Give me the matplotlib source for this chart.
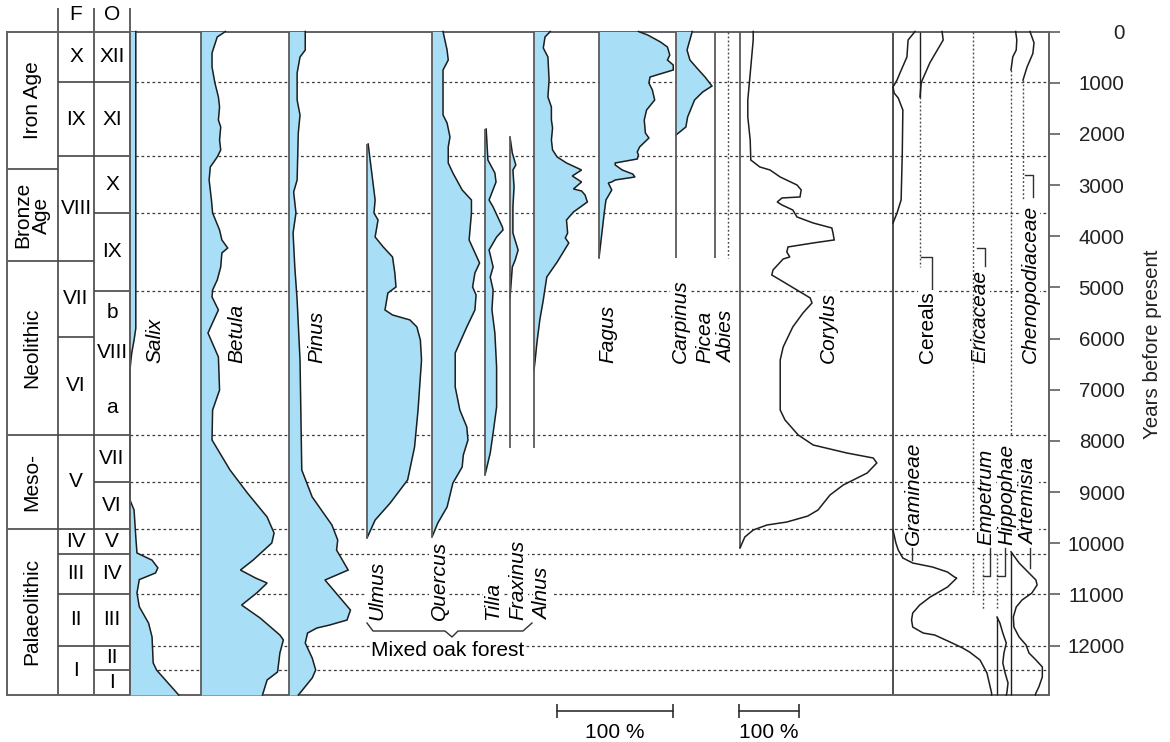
import matplotlib
matplotlib.use("Agg")
import matplotlib.pyplot as plt

plt.rcParams['font.family'] = ['Liberation Sans', 'DejaVu Sans']

# ---------------------------------------------------------------- data
AGE_END = 12965
year_ticks = list(range(0, 13000, 1000))

zone_bounds_O = [987, 2433, 3546, 5070, 7884, 8802, 9720, 10209, 10991, 12007, 12476]
zone_bounds_F = [987, 2433, 4484, 5970, 7884, 9720, 10209, 10991, 12007]
zone_bounds_period = [2687, 4484, 7884, 9720]

periods = ["Iron Age", "Bronze\nAge", "Neolithic", "Meso-", "Palaeolithic"]
f_zones = ["X", "IX", "VIII", "VII", "VI", "V", "IV", "III", "II", "I"]
o_zones = ["XII", "XI", "X", "IX", "", "VII", "VI", "V", "IV", "III", "II", "I"]
o_sub_labels = ["b", "VIII", "a"]
o_sub_years = [5500, 6280, 7355]

salix_yr = [0, 5800, 6030, 6280, 6420, 6610, 9155, 9350, 9880, 10190, 10330, 10480,
            10580, 10710, 10970, 11240, 11560, 11830, 12340, 12480, 12965]
salix_pct = [5, 5, 3.5, 1.5, 0.8, 0, 0, 3.5, 5, 6, 19, 24, 22, 8, 6, 8, 16, 19, 20, 23, 42]

betula_yr = [0, 107, 420, 694, 1006, 1280, 1475, 1729, 1866, 2120, 2315, 2452, 2647, 2901,
             3292, 3546, 3878, 4073, 4230, 4327, 4601, 4855, 5050, 5187, 5441, 5890, 6360,
             7005, 7396, 7982, 8568, 9018, 9487, 9800, 9995, 10327, 10523, 10679, 10777,
             10972, 11207, 11461, 11793, 11890, 12144, 12515, 12671, 12965]
betula_pct = [21, 14, 9.5, 9.5, 12, 15, 16, 15, 17, 16, 17, 14, 8, 7, 9, 10, 16, 18, 23, 18,
              17, 14, 10, 9.5, 15, 6, 15, 16, 10, 9.5, 25, 40, 57, 63, 61, 45, 34, 47, 57, 48,
              35, 51, 68, 71, 68, 66, 57, 53]

pinus_yr = [0, 362, 498, 811, 1338, 1631, 1983, 2901, 3135, 3546, 3937, 4601, 5246, 6419,
            8568, 9096, 9643, 9936, 10132, 10523, 10718, 11305, 11500, 11598, 11656, 11754,
            11949, 12242, 12476, 12632, 12926, 12965]
pinus_pct = [14, 14, 9.5, 7, 7, 9.5, 8, 7, 4, 6, 3.5, 5, 7, 9.5, 11, 20, 37, 42, 41, 51, 31,
             53, 50, 35, 24, 16, 14, 20, 23, 20, 9.5, 8]

ulmus_yr = [2198, 3292, 3546, 3683, 4015, 4210, 4406, 4718, 4992, 5109, 5441, 5539, 5636,
            5773, 6027, 6419, 7396, 8119, 8764, 9213, 9546, 9897]
ulmus_pct = [1, 7, 6, 9.5, 7, 14, 22, 24, 25, 18, 15.5, 22, 37, 43, 46, 47, 44, 41, 35, 20, 7, 0]

quercus_yr = [0, 362, 557, 752, 948, 1631, 1788, 2061, 2256, 2569, 2764, 3096, 3292, 3546,
              4073, 4523, 4718, 4992, 5148, 5441, 5773, 6027, 6282, 6946, 7396, 7728, 7982,
              8275, 8510, 8823, 9292, 9604, 9878]
quercus_pct = [9.5, 13, 14, 9.5, 9.5, 9.5, 13, 15.5, 14, 14, 18, 26, 34, 34, 32, 41, 37, 35,
               38, 37, 30, 25, 20, 20, 24, 30, 31, 27, 26, 18, 13, 5, 0]

tilia_yr = [1905, 2511, 2764, 2940, 3292, 3429, 3820, 3878, 4015, 4269, 4601, 4797, 5050,
            5441, 5890, 6555, 7337, 7845, 8236, 8666]
tilia_pct = [1, 2.5, 8.5, 9.5, 3.5, 7, 15, 15.5, 10, 3.5, 7, 4.5, 7, 6, 8.5, 10, 10, 7, 4.5, 0]

fraxinus_yr = [2061, 2374, 2608, 2706, 3038, 3429, 3937, 4269, 4464, 4601, 5206]
fraxinus_pct = [0, 2, 5, 2.5, 3.5, 2.5, 2.5, 7, 4.5, 2, 0]

alnus_yr = [0, 107, 322, 498, 948, 1280, 1475, 1729, 1886, 2120, 2315, 2452, 2569, 2706,
            2823, 2940, 3077, 3116, 3194, 3331, 3527, 3683, 3937, 4034, 4132, 4503, 4797,
            5246, 5636, 6086, 6419, 6614]
alnus_pct = [14, 9.5, 8, 12, 13, 12, 15, 15, 16, 15, 16, 20, 28, 41, 33, 41, 34, 41, 44, 46,
             34, 28, 29, 27, 30, 20, 11, 8, 5, 2.5, 1, 0]

fagus_yr = [0, 68, 205, 303, 459, 557, 655, 752, 889, 1006, 1143, 1338, 1534, 1729, 1983,
            2081, 2256, 2354, 2413, 2491, 2569, 2608, 2706, 2784, 2843, 2901, 2940, 2960,
            3096, 3292, 3546, 4425]
fagus_pct = [34, 42, 53, 59, 61, 59, 64, 64, 44, 43, 46, 48, 41, 39, 40, 43, 35, 33, 34, 33,
             14, 14, 20, 29, 31, 14, 11, 8, 11, 6, 4.5, 0]

carpinus_yr = [0, 362, 557, 713, 889, 1065, 1182, 1338, 1671, 1866, 2022]
carpinus_pct = [14, 9.5, 12, 18, 25, 31, 23, 16, 10, 8.5, 0]

corylus_yr = [0, 166, 694, 1338, 1671, 2120, 2511, 2647, 2706, 2843, 2999, 3096, 3233, 3253,
              3331, 3390, 3488, 3624, 3742, 3839, 3937, 4073, 4132, 4210, 4308, 4406, 4445,
              4660, 4758, 4855, 5207, 5305, 5500, 5773, 6164, 6419, 6673, 7396, 7591, 7884,
              8080, 8236, 8334, 8431, 8627, 8862, 9057, 9350, 9468, 9585, 9643, 9741, 9878,
              10093]
corylus_pct = [22, 22, 18, 13, 13, 17, 18, 33, 50, 67, 95, 102, 100, 70, 62, 70, 88, 95, 122,
               153, 155, 157, 122, 80, 78, 83, 72, 55, 53, 67, 117, 120, 105, 88, 72, 67, 67,
               67, 75, 97, 122, 178, 222, 228, 212, 172, 150, 130, 113, 78, 45, 22, 8, 0]

gram_top_yr = [0, 166, 498, 811, 948, 1084, 1202, 1300, 1534, 2374, 3292, 3546, 3742]
gram_top_pct = [19, 13, 12, 6, 3.5, 0, 1, 4.5, 8.5, 8, 7, 3.5, 0]
gram_low_yr = [9741, 9995, 10132, 10288, 10386, 10464, 10562, 10660, 10679, 10855, 11051,
               11207, 11363, 11500, 11637, 11754, 11793, 11949, 12046, 12125, 12281, 12535,
               12926, 12965]
gram_low_pct = [0, 2.5, 4.5, 8.5, 17, 34, 47, 53, 55, 47, 32, 23, 17, 16, 17, 26, 36, 51, 60,
                66, 75, 81, 85, 85]

cereals_yr = [0, 166, 611, 948, 1006, 1280]
cereals_pct = [19, 20, 8.5, 2, 1, 0]
cereals_trace = (1280, 4601)

ericaceae_traces = [(0, 9720), (10209, 10950)]
empetrum_trace = (10209, 11300)
hippophae_trace = (10209, 11270)
hippophae_yr = [11442, 11559, 11754, 11949, 12144, 12339, 12535, 12730, 12926, 12965]
hippophae_pct = [0, 2.5, 5, 8, 6, 5, 7, 9.5, 8.5, 8]

artemisia_top_yr = [0, 166, 362, 498, 752]
artemisia_top_pct = [4, 5, 4.5, 1.5, 0]
artemisia_trace = (752, 7884)
artemisia_low_yr = [10167, 10386, 10581, 10718, 10816, 10972, 11109, 11246, 11442, 11637,
                    11832, 11988, 12144, 12281, 12417, 12613, 12808, 12926, 12965]
artemisia_low_pct = [0, 7, 15.5, 21.5, 22.5, 18, 9.5, 4.5, 2, 2.5, 7, 13, 15.5, 21.5, 27, 27,
                     24, 21.5, 21]

cheno_yr = [0, 220, 430, 694, 948]
cheno_pct = [6, 9.5, 8.5, 3.5, 0]
cheno_trace = (948, 3292)

# ---------------------------------------------------------------- layout
W, H, DPI = 1170, 742, 100
TOP_PX, BOT_PX = 31.5, 695.0
LEFT_PX, RIGHT_PX = 7.0, 1049.0
TREE_K = 1.16      # px per percent (trees, herbs)
CORY_K = 0.60      # px per percent (Corylus)
BLUE = '#a8dff6'
EDGE = '#1e1e1e'
BASE = '#5a5a5a'
GRID = '#3a3a3a'
FS = 15
DASH = (0, (2.2, 2.2))
DOT = (0, (1.3, 1.6))


def yr(px):
    return (px - TOP_PX) / (BOT_PX - TOP_PX) * AGE_END


def rect(x0, x1, y0=TOP_PX, y1=BOT_PX):
    return [x0 / W, 1 - y1 / H, (x1 - x0) / W, (y1 - y0) / H]


fig = plt.figure(figsize=(W / DPI, H / DPI), dpi=DPI)
ax = fig.add_axes(rect(LEFT_PX, RIGHT_PX))
ax.set_xlim(LEFT_PX, RIGHT_PX)
ax.set_ylim(AGE_END, 0)
for s in ax.spines.values():
    s.set_color('#606060')
    s.set_linewidth(1.4)
ax.set_xticks([])
ax.yaxis.tick_right()
ax.set_yticks(year_ticks)
ax.set_yticklabels([str(t) for t in year_ticks])
ax.tick_params(axis='y', direction='out', length=7.9, width=1.2, color='#606060',
               labelsize=14.8, pad=46.5, labelcolor='#222222', left=False, labelleft=False)
for lab in ax.get_yticklabels():
    lab.set_horizontalalignment('right')

# zone dashed lines
ax.hlines(zone_bounds_O, 130, RIGHT_PX, colors=GRID, lw=0.9, linestyles=[DASH], zorder=0.5)

# table
TL = '#454545'
ax.vlines([58, 94, 130], yr(8), AGE_END, colors=TL, lw=1.2, clip_on=False)
ax.hlines(zone_bounds_period, 7, 58, colors=TL, lw=1.2)
ax.hlines(zone_bounds_F, 58, 94, colors=TL, lw=1.2)
ax.hlines(zone_bounds_O, 94, 130, colors=TL, lw=1.2)

ax.text(76, yr(14), "F", ha='center', va='center', fontsize=FS, clip_on=False)
ax.text(112, yr(14), "O", ha='center', va='center', fontsize=FS, clip_on=False)


def centers(bounds):
    b = [0] + list(bounds) + [AGE_END]
    return [(b[i] + b[i + 1]) / 2 for i in range(len(b) - 1)]


for lab, c in zip(periods, centers(zone_bounds_period)):
    ax.text(32, c, lab, rotation=90, ha='center', va='center', fontsize=FS,
            multialignment='center', linespacing=0.95)
for lab, c in zip(f_zones, centers(zone_bounds_F)):
    ax.text(76, c, lab, ha='center', va='center', fontsize=FS)
for lab, c in zip(o_zones, centers(zone_bounds_O)):
    if lab:
        ax.text(112, c, lab, ha='center', va='center', fontsize=FS)
for lab, c in zip(o_sub_labels, o_sub_years):
    ax.text(112, c, lab, ha='center', va='center', fontsize=FS)


# ---------------------------------------------------------------- panels
def panel(base_px, k, width_px=160):
    a = fig.add_axes(rect(base_px, base_px + width_px))
    a.set_xlim(0, width_px / k)
    a.set_ylim(AGE_END, 0)
    a.axis('off')
    a.patch.set_visible(False)
    return a


def curve(a, y, x, fill=True):
    if fill:
        a.fill_betweenx(y, 0, x, color=BLUE, lw=0, clip_on=False)
    a.plot(x, y, color=EDGE, lw=1.1, clip_on=False, solid_joinstyle='miter')


def base(a, y0, y1, ls='-', color=BASE, lw=1.3):
    a.vlines(0, y0, y1, colors=color, lw=lw, linestyles=[ls], clip_on=False)


tree_panels = [
    (130, salix_yr, salix_pct, (0, AGE_END)),
    (201, betula_yr, betula_pct, (0, AGE_END)),
    (289, pinus_yr, pinus_pct, (0, AGE_END)),
    (367, ulmus_yr, ulmus_pct, (ulmus_yr[0], ulmus_yr[-1])),
    (432, quercus_yr, quercus_pct, (0, quercus_yr[-1])),
    (485, tilia_yr, tilia_pct, (tilia_yr[0], tilia_yr[-1])),
    (510, fraxinus_yr, fraxinus_pct, (fraxinus_yr[0], 8140)),
    (534, alnus_yr, alnus_pct, (0, 8140)),
    (599, fagus_yr, fagus_pct, (0, fagus_yr[-1])),
    (676, carpinus_yr, carpinus_pct, (0, 4425)),
]
for bx, y, x, rng in tree_panels:
    a = panel(bx, TREE_K)
    curve(a, y, x)
    base(a, *rng)

a = panel(715, TREE_K)          # Picea
base(a, 0, 4425)
a = panel(728, TREE_K)          # Abies
base(a, 0, 4425, ls=DOT, color='#444444', lw=1.0)

a = panel(740, CORY_K, 200)     # Corylus
base(a, 0, corylus_yr[-1])
curve(a, corylus_yr, corylus_pct, fill=False)

# herbs
a = panel(893, TREE_K)
curve(a, gram_top_yr, gram_top_pct, fill=False)
curve(a, gram_low_yr, gram_low_pct, fill=False)

a = panel(920, TREE_K)
base(a, 0, cereals_trace[0], color=EDGE, lw=1.0)
base(a, *cereals_trace, ls=DOT, color='#444444', lw=1.0)
curve(a, cereals_yr, cereals_pct, fill=False)

a = panel(973, TREE_K)
for r in ericaceae_traces:
    base(a, *r, ls=DOT, color='#444444', lw=1.0)

a = panel(983, TREE_K)
base(a, *empetrum_trace, ls=DOT, color='#444444', lw=1.0)

a = panel(997, TREE_K)
base(a, *hippophae_trace, ls=DOT, color='#444444', lw=1.0)
base(a, hippophae_yr[0], AGE_END, color=EDGE, lw=1.0)
curve(a, hippophae_yr, hippophae_pct, fill=False)

a = panel(1011, TREE_K)
curve(a, artemisia_top_yr, artemisia_top_pct, fill=False)
base(a, *artemisia_trace, ls=DOT, color='#444444', lw=1.0)
base(a, artemisia_low_yr[0], AGE_END, color=EDGE, lw=1.0)
curve(a, artemisia_low_yr, artemisia_low_pct, fill=False)

a = panel(1023, TREE_K)
curve(a, cheno_yr, cheno_pct, fill=False)
base(a, *cheno_trace, ls=DOT, color='#444444', lw=1.0)

# frame line between Corylus and herbs
ax.vlines(893, 0, AGE_END, colors='#303030', lw=1.2)

# ---------------------------------------------------------------- labels
BOX = dict(facecolor='white', edgecolor='none', pad=0.6)


def label(x, ybot, s, italic=True):
    ax.text(x, yr(ybot), s, rotation=90, ha='center', va='bottom', fontsize=FS,
            style='italic' if italic else 'normal', bbox=BOX, zorder=5)


for x, s in [(155, "Salix"), (237, "Betula"), (317, "Pinus"), (608, "Fagus"),
             (680, "Carpinus"), (705, "Picea"), (727, "Abies"), (828, "Corylus"),
             (980, "Ericaceae"), (1030, "Chenopodiaceae")]:
    label(x, 363, s)
label(928, 363, "Cereals", italic=False)
for x, s in [(377, "Ulmus"), (439, "Quercus"), (493, "Tilia"), (518, "Fraxinus"),
             (543, "Alnus")]:
    label(x, 620, s)
for x, s in [(913, "Gramineae"), (986, "Empetrum"), (1007, "Hippophae"),
             (1029, "Artemisia")]:
    label(x, 545, s)

LC = '#303030'
# leaders
ax.plot([912, 912], [yr(548), yr(560)], color=LC, lw=1.0)
ax.plot([990, 990, 983], [yr(548), yr(576), yr(576)], color=LC, lw=1.0)
ax.plot([1005, 1005, 997], [yr(548), yr(576), yr(576)], color=LC, lw=1.0)
ax.plot([1030, 1030], [yr(548), yr(568)], color=LC, lw=1.0)
ax.plot([921, 932, 932], [yr(257), yr(257), yr(289)], color=LC, lw=1.0)
ax.plot([977, 985, 985], [yr(248), yr(248), yr(266)], color=LC, lw=1.0)
ax.plot([1025, 1033, 1033], [yr(175), yr(175), yr(197)], color=LC, lw=1.0)

# mixed oak forest bracket
bx = [367, 373, 445, 452, 458, 523, 532]
by = [623, 631, 631, 637, 631, 631, 623]
ax.plot(bx, [yr(v) for v in by], color=LC, lw=1.0, zorder=5)
ax.text(448, yr(650), "Mixed oak forest", ha='center', va='center', fontsize=FS,
        bbox=BOX, zorder=5)

# year label
fig.text(1153 / W, 1 - 344 / H, "Years before present", rotation=90, ha='center',
         va='center', fontsize=14.8, color='#222222')

# ---------------------------------------------------------------- scale bars
for x0, k, lab_pct in [(557, TREE_K, 100), (739, CORY_K, 100)]:
    sb = fig.add_axes(rect(x0, x0 + 130, 700, 742))
    sb.set_xlim(0, 130 / k)
    sb.set_ylim(742, 700)
    sb.axis('off')
    sb.patch.set_visible(False)
    sb.plot([0, lab_pct], [711, 711], color=LC, lw=1.2, clip_on=False)
    sb.vlines([0, lab_pct], 704, 718, colors=LC, lw=1.2, clip_on=False)
    sb.text(lab_pct / 2, 732, f"{lab_pct} %", ha='center', va='center', fontsize=FS,
            clip_on=False)

fig.savefig("out.png", dpi=DPI)
